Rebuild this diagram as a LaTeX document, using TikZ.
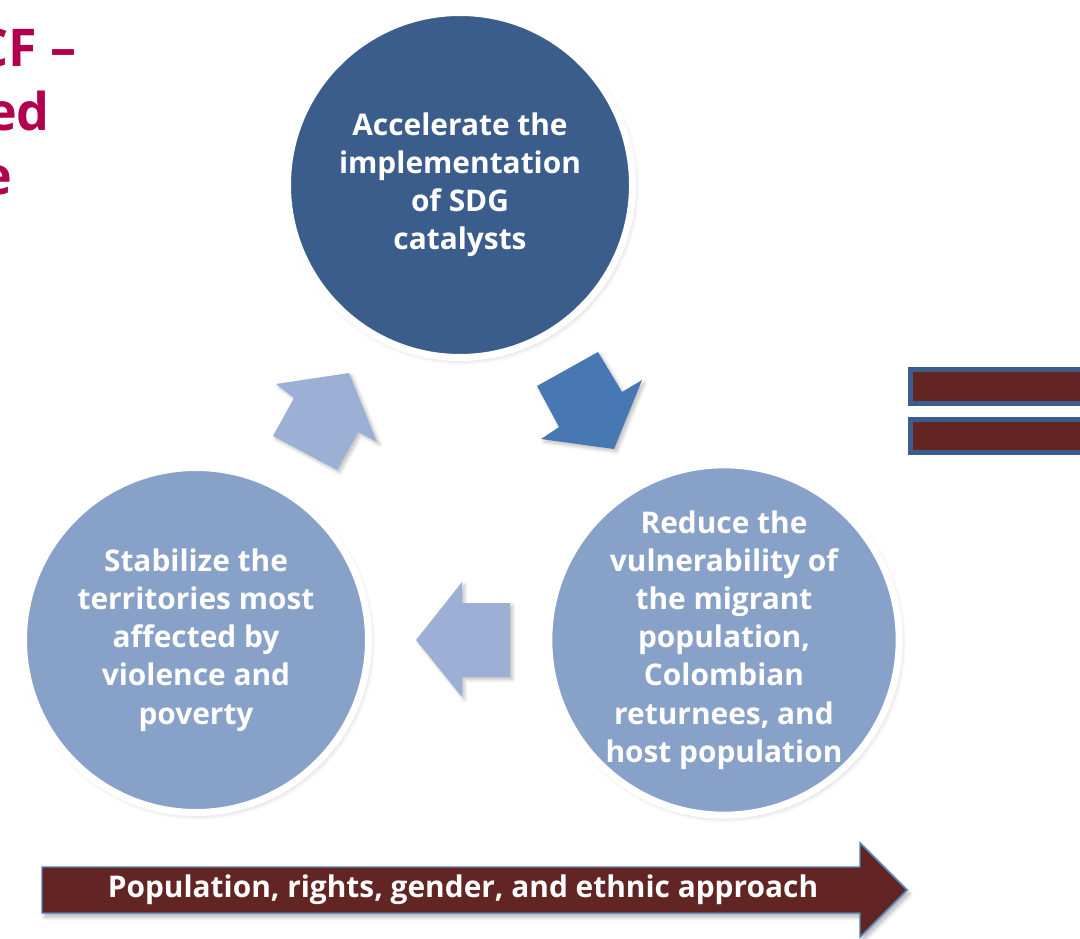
\documentclass[tikz,border=0pt]{standalone}
\usepackage{fontspec}
\setmainfont{Open Sans}
\usetikzlibrary{shadows.blur}
\definecolor{topblue}{HTML}{3A5D8B}
\definecolor{softblue}{HTML}{87A1C8}
\definecolor{midblue}{HTML}{4878B3}
\definecolor{paleblue}{HTML}{9BB0D4}
\definecolor{maroon}{HTML}{632523}
\definecolor{crimson}{HTML}{B0004E}
\definecolor{edgeblue}{HTML}{4F81BD}
\begin{document}
\begin{tikzpicture}[x=0.75pt,y=-0.75pt,
  goal/.style={circle, draw=white, line width=5.25pt, text=white,
    font=\fontsize{22.4}{28.6}\selectfont\bfseries, align=center,
    minimum size=258.75pt, inner sep=0pt,
    blur shadow={shadow xshift=1.5pt, shadow yshift=-2pt, shadow opacity=22, shadow blur steps=8, shadow blur radius=4pt}},
  cyclearrow/.style={blur shadow={shadow xshift=2pt, shadow yshift=-2pt, shadow opacity=25, shadow blur steps=6, shadow blur radius=2.5pt}},
  title/.style={text=crimson, font=\fontsize{39}{47}\selectfont\bfseries, inner sep=0pt, anchor=base east},
  bar/.style={draw=topblue, line width=3.75pt, fill=maroon},
  band/.style={draw=edgeblue, line width=1.1pt, fill=maroon,
    blur shadow={shadow xshift=2pt, shadow yshift=-3pt, shadow opacity=30, shadow blur steps=6, shadow blur radius=3pt}},
  bandtext/.style={text=white, font=\fontsize{22.4}{26}\selectfont\bfseries, inner sep=0pt}]
\useasboundingbox (0,0) rectangle (1080,938);
\clip (0,0) rectangle (1080,938);

% heading, running past the left edge
\node[title] (t1) at (77,67) {CF –};
\node[title] (t2) at (50,131) {ed};
\node[title] (t3) at (12,194) {e};

% the three goals
\node[goal, fill=topblue] (accel) at (460,185)
  {Accelerate the\\implementation\\of SDG\\catalysts};
\node[goal, fill=softblue] (reduce) at (724,640)
  {Reduce the\\vulnerability of\\the migrant\\population,\\Colombian\\returnees, and\\host population};
\node[goal, fill=softblue] (stab) at (196,640)
  {Stabilize the\\territories most\\affected by\\violence and\\poverty};

% block arrows of the cycle
\fill[midblue, cyclearrow] (598,352) -- (622,392) -- (642,380) -- (614,449)
  -- (541,439) -- (559,427) -- (537,386) -- cycle;
\fill[paleblue, cyclearrow] (510,603) -- (462,603) -- (462,582) -- (416,640)
  -- (462,697) -- (462,677) -- (510,677) -- cycle;
\fill[paleblue, cyclearrow] (337,470) -- (358,432) -- (377,442) -- (349,373)
  -- (276,384) -- (294,398) -- (273,436) -- cycle;

% equals sign
\draw[bar] (910,369.5) rectangle (1090,403.5);
\draw[bar] (910,419.5) rectangle (1090,452.5);

% cross-cutting approach band
\draw[band] (42,867) -- (860,867) -- (860,843) -- (907,890) -- (860,937)
  -- (860,913) -- (42,913) -- cycle;
\node[bandtext] (approach) at (463,890) {Population, rights, gender, and ethnic approach};
\end{tikzpicture}
\end{document}
